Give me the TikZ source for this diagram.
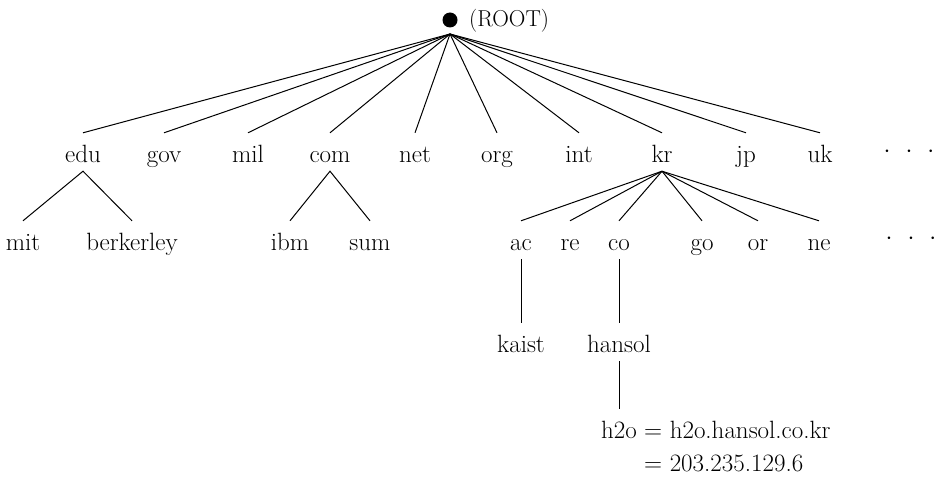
\documentclass[tikz,border=0pt]{standalone}
\begin{document}
\begin{tikzpicture}[x=1pt,y=-1pt,
  lbl/.style={font=\fontsize{25}{30}\selectfont, inner sep=0pt, anchor=base,
              text height=29pt, text depth=9pt},
  plain/.style={font=\fontsize{25}{30}\selectfont, inner sep=0pt, anchor=base west},
  dotsnode/.style={font=\fontsize{23}{28}\selectfont, inner sep=0pt},
  edge/.style={line width=1pt}]
\useasboundingbox (0,0) rectangle (937,484);
% root
\node[circle, fill=black, minimum size=15pt, inner sep=0pt] (root) at (450,20) {};
\node[plain, font=\fontsize{23}{28}\selectfont] (rootlbl) at (469,27) {(ROOT)};
\coordinate (rj) at (450,34);
% level 1
\node[lbl] (edu) at (83,162) {edu};
\node[lbl] (gov) at (164,162) {gov};
\node[lbl] (mil) at (248,162) {mil};
\node[lbl] (com) at (330,162) {com};
\node[lbl] (net) at (415,162) {net};
\node[lbl] (org) at (497,162) {org};
\node[lbl] (int) at (579,162) {int};
\node[lbl] (kr) at (662,162) {kr};
\node[lbl] (jp) at (746,162) {jp};
\node[lbl] (uk) at (820,162) {uk};
\node[dotsnode] (dots1) at (909,152) {$\cdot$\hspace{15pt}$\cdot$\hspace{15pt}$\cdot$};
% level 2
\node[lbl] (mit) at (23,250) {mit};
\node[lbl] (berk) at (132,250) {berkerley};
\node[lbl] (ibm) at (290,250) {ibm};
\node[lbl] (sum) at (370,250) {sum};
\node[lbl] (ac) at (521,250) {ac};
\node[lbl] (re) at (570,250) {re};
\node[lbl] (co) at (619,250) {co};
\node[lbl] (go) at (702,250) {go};
\node[lbl] (or) at (758,250) {or};
\node[lbl] (ne) at (819,250) {ne};
\node[dotsnode] (dots2) at (911,239) {$\cdot$\hspace{15pt}$\cdot$\hspace{15pt}$\cdot$};
% level 3
\node[lbl] (kaist) at (521,352) {kaist};
\node[lbl] (hansol) at (619,352) {hansol};
% level 4
\node[lbl] (h2o) at (619,438) {h2o};
\node[plain] (fqdn) at (644,438) {= h2o.hansol.co.kr};
\node[plain] (ip) at (644,471) {= 203.235.129.6};
% edges
\foreach \n in {edu,gov,mil,com,net,org,int,kr,jp,uk}
  \draw[edge] (rj) -- (\n.north);
\draw[edge] (mit.north) -- (edu.south) -- (berk.north);
\draw[edge] (ibm.north) -- (com.south) -- (sum.north);
\foreach \n in {ac,re,co,go,or,ne}
  \draw[edge] (kr.south) -- (\n.north);
\draw[edge] (ac.south) -- (kaist.north);
\draw[edge] (co.south) -- (hansol.north);
\draw[edge] (hansol.south) -- (h2o.north);
\end{tikzpicture}
\end{document}
